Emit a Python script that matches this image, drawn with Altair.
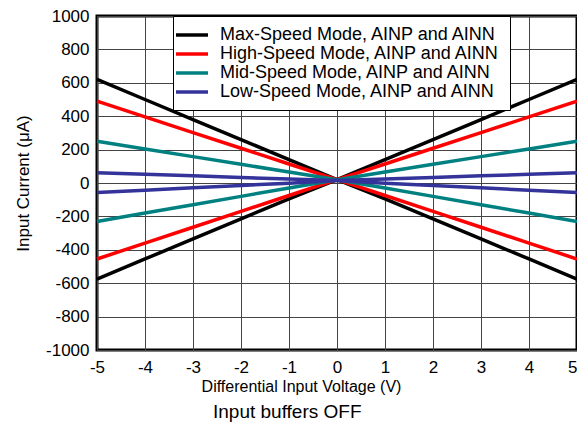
import altair as alt
import pandas as pd

volts = [-5, -4, -3, -2, -1, 0, 1, 2, 3, 4, 5]
modes = ["Max-Speed Mode, AINP and AINN", "High-Speed Mode, AINP and AINN",
         "Mid-Speed Mode, AINP and AINN", "Low-Speed Mode, AINP and AINN"]
colors = ["#000000", "#ff0000", "#008080", "#333399"]

max_p = [-575, -455, -335, -215, -95, 20, 140, 260, 380, 500, 620]
max_n = [620, 500, 380, 260, 140, 20, -95, -215, -335, -455, -575]
high_p = [-455, -360, -265, -170, -75, 20, 114, 208, 302, 396, 490]
high_n = [490, 396, 302, 208, 114, 20, -75, -170, -265, -360, -455]
mid_p = [-230, -180, -130, -80, -30, 20, 66, 112, 158, 204, 250]
mid_n = [250, 204, 158, 112, 66, 20, -30, -80, -130, -180, -230]
low_p = [-57, -43, -29, -15, -1, 15, 24, 33, 43, 52, 62]
low_n = [62, 52, 43, 33, 24, 15, -1, -15, -29, -43, -57]

series = [(modes[0], "AINP", max_p), (modes[0], "AINN", max_n),
          (modes[1], "AINP", high_p), (modes[1], "AINN", high_n),
          (modes[2], "AINP", mid_p), (modes[2], "AINN", mid_n),
          (modes[3], "AINP", low_p), (modes[3], "AINN", low_n)]
rows = []
for m, pin, vals in series:
    for v, c in zip(volts, vals):
        rows.append({"v": v, "i": c, "mode": m, "pin": pin})
df = pd.DataFrame(rows)

FONT = "Liberation Sans"

chart = alt.Chart(df).mark_line(strokeWidth=3.5).encode(
    x=alt.X("v:Q", scale=alt.Scale(domain=[-5, 5], nice=False),
            axis=alt.Axis(title="Differential Input Voltage (V)", values=volts,
                          labelExpr="'' + datum.value", labelFlush=False,
                          labelAlign={"expr": "datum.value == 5 ? 'right' : 'center'"},
                          grid=True, gridColor="#444", gridWidth=1, labelOverlap=False,
                          domain=False, ticks=False, labelPadding=9,
                          labelFontSize=17, titleFontSize=16, titleFontWeight="normal",
                          labelFont=FONT, titleFont=FONT, labelColor="black", titleColor="black",
                          titlePadding=3, titleX=204, titleAlign="center")),
    y=alt.Y("i:Q", scale=alt.Scale(domain=[-1000, 1000], nice=False),
            axis=alt.Axis(title="Input Current (μA)", values=list(range(-1000, 1001, 200)),
                          labelExpr="'' + datum.value", labelOverlap=False, labelFlush=False,
                          grid=True, gridColor="#444", gridWidth=1,
                          domain=False, ticks=False, labelPadding=8,
                          labelFontSize=17, titleFontSize=17, titleFontWeight="normal",
                          labelFont=FONT, titleFont=FONT, labelColor="black", titleColor="black",
                          titlePadding=13)),
    color=alt.Color("mode:N", scale=alt.Scale(domain=modes, range=colors),
                    legend=alt.Legend(title=None, orient="none", legendX=76, legendY=0,
                                      fillColor="white", strokeColor="black",
                                      padding=9, symbolType="M-2,0L2,0",
                                      symbolStrokeWidth=3.5, symbolSize=256,
                                      labelOffset=18,
                                      labelFontSize=18, labelFont=FONT, labelColor="black",
                                      labelLimit=400, rowPadding=0)),
    detail="pin:N",
).properties(
    width=480, height=334,
    title=alt.Title("Input buffers OFF", orient="bottom", font=FONT, fontSize=19,
                    fontWeight="normal", color="black", frame="bounds", anchor="middle",
                    offset=9, dx=-12),
    autosize=alt.AutoSizeParams(type="none"),
    padding={"left": 89, "top": 8, "right": 0, "bottom": 77},
).configure_view(stroke="black", strokeWidth=3)

chart.save("out.html", embed_options={"renderer": "svg", "actions": False})
